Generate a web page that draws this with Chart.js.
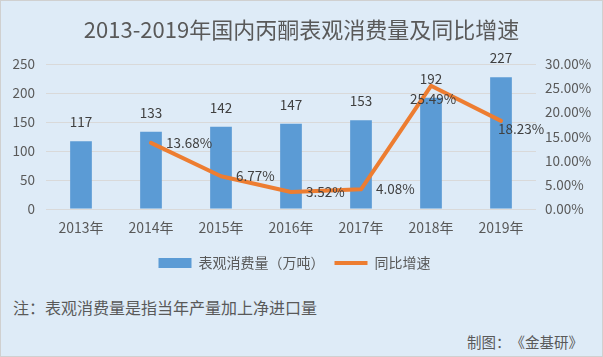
<!DOCTYPE html>
<html>
<head>
<meta charset="utf-8">
<script src="https://cdn.jsdelivr.net/npm/chart.js@4.4.1/dist/chart.umd.min.js"></script>
<style>
  html, body { margin: 0; padding: 0; }
  body { width: 603px; height: 357px; overflow: hidden; position: relative; font-family: "Noto Sans CJK SC", "Noto Sans", sans-serif; }
  #frame { position: absolute; left: 0; top: 0; width: 603px; height: 357px; box-sizing: border-box; border: 1px solid #d0d0d0; background: #deebf7; }
  #chartBox { position: absolute; left: 0; top: 0; width: 603px; height: 280px; }
  .note { position: absolute; color: #595959; white-space: nowrap; line-height: 1; text-spacing-trim: space-all; }
  #note1 { left: 13px; top: 299px; font-size: 16px; }
  #note2 { right: 20px; top: 335px; font-size: 14.5px; }
</style>
</head>
<body>
<div id="frame"></div>
<div id="chartBox"><canvas id="c" width="603" height="280"></canvas></div>
<div class="note" id="note1">注：表观消费量是指当年产量加上净进口量</div>
<div class="note" id="note2">制图：《金基研》</div>
<script>
// ---- data ----
const chartTitle = '2013-2019年国内丙酮表观消费量及同比增速';
const categories = ['2013年', '2014年', '2015年', '2016年', '2017年', '2018年', '2019年'];
const consumption = [117, 133, 142, 147, 153, 192, 227];          // 万吨
const growthRate = [null, 13.68, 6.77, 3.52, 4.08, 25.49, 18.23];  // %
const consumptionLabel = '表观消费量（万吨）';
const growthLabel = '同比增速';
const leftAxisRange = [0, 250, 50];
const rightAxisRange = [0, 30, 5];

// label placement for growth labels (style only)
const growthLabelPlacement = ['none', 'right', 'right', 'right', 'right', 'below', 'belowright'];

const FONT = '"Noto Sans CJK SC", "Noto Sans", sans-serif';
const BLUE = '#5b9bd5';
const ORANGE = '#ed7d31';
const TXT = '#595959';
const LBL = '#404040';

const valueLabels = {
  id: 'valueLabels',
  afterDatasetsDraw(chart) {
    const ctx = chart.ctx;
    ctx.save();
    ctx.font = '13.5px ' + FONT;
    ctx.fillStyle = LBL;
    ctx.textBaseline = 'middle';
    const barMeta = chart.getDatasetMeta(0);
    barMeta.data.forEach((el, i) => {
      ctx.textAlign = 'center';
      ctx.fillText(String(consumption[i]), el.x, el.y - 19);
    });
    const lineMeta = chart.getDatasetMeta(1);
    lineMeta.data.forEach((el, i) => {
      const v = growthRate[i];
      if (v === null || v === undefined) return;
      const t = v.toFixed(2) + '%';
      const p = growthLabelPlacement[i];
      if (p === 'right') { ctx.textAlign = 'left'; ctx.fillText(t, el.x + 15, el.y); }
      else if (p === 'below') { ctx.textAlign = 'center'; ctx.fillText(t, el.x + 2, el.y + 13); }
      else if (p === 'belowright') { ctx.textAlign = 'left'; ctx.fillText(t, el.x - 3, el.y + 8); }
    });
    ctx.restore();
  }
};

const legendShift = {
  id: 'legendShift',
  afterLayout(chart) {
    if (chart.legend) { chart.legend.left -= 7; chart.legend.right -= 7; }
  }
};

new Chart(document.getElementById('c'), {
  data: {
    labels: categories,
    datasets: [
      {
        type: 'bar',
        label: consumptionLabel,
        data: consumption,
        backgroundColor: BLUE,
        borderWidth: 0,
        categoryPercentage: 1,
        barPercentage: 0.31,
        yAxisID: 'y',
        order: 2
      },
      {
        type: 'line',
        label: growthLabel,
        data: growthRate,
        borderColor: ORANGE,
        backgroundColor: ORANGE,
        borderWidth: 4,
        pointRadius: 0,
        pointHoverRadius: 0,
        tension: 0,
        spanGaps: false,
        borderCapStyle: 'round',
        borderJoinStyle: 'round',
        yAxisID: 'y1',
        order: 1
      }
    ]
  },
  options: {
    responsive: false,
    animation: false,
    devicePixelRatio: 1,
    layout: { padding: { left: 0, right: 0, top: 0, bottom: 0 } },
    plugins: {
      tooltip: { enabled: false },
      title: {
        display: true,
        text: chartTitle,
        color: TXT,
        font: { family: FONT, size: 22, weight: 'normal' },
        padding: { top: 16, bottom: 21.6 }
      },
      legend: {
        display: true,
        position: 'bottom',
        labels: {
          usePointStyle: true,
          pointStyleWidth: 33,
          boxHeight: 10,
          padding: 10,
          color: TXT,
          font: { family: FONT, size: 14 },
          generateLabels() {
            return [
              { text: consumptionLabel, fillStyle: BLUE, strokeStyle: BLUE, lineWidth: 0, pointStyle: 'rect', datasetIndex: 0, hidden: false, fontColor: TXT },
              { text: growthLabel, fillStyle: ORANGE, strokeStyle: ORANGE, lineWidth: 4, lineCap: 'butt', pointStyle: 'line', datasetIndex: 1, hidden: false, fontColor: TXT }
            ];
          }
        }
      }
    },
    scales: {
      x: {
        grid: { display: false, drawTicks: false },
        border: { display: false },
        ticks: { color: TXT, font: { family: FONT, size: 14 }, padding: 10, maxRotation: 0 },
        afterFit(s) { s.height = 37; }
      },
      y: {
        position: 'left',
        min: leftAxisRange[0], max: leftAxisRange[1],
        ticks: { stepSize: leftAxisRange[2], color: TXT, font: { family: FONT, size: 13.5 }, padding: 11 },
        grid: { color: '#d9d9d9', drawTicks: false, lineWidth: 1 },
        border: { display: false },
        afterFit(s) { s.width = 46; }
      },
      y1: {
        position: 'right',
        min: rightAxisRange[0], max: rightAxisRange[1],
        ticks: { stepSize: rightAxisRange[2], color: TXT, font: { family: FONT, size: 13.5 }, padding: 9, callback: v => Number(v).toFixed(2) + '%' },
        grid: { display: false, drawTicks: false },
        border: { display: false },
        afterFit(s) { s.width = 67; }
      }
    }
  },
  plugins: [valueLabels, legendShift]
});
</script>
</body>
</html>
